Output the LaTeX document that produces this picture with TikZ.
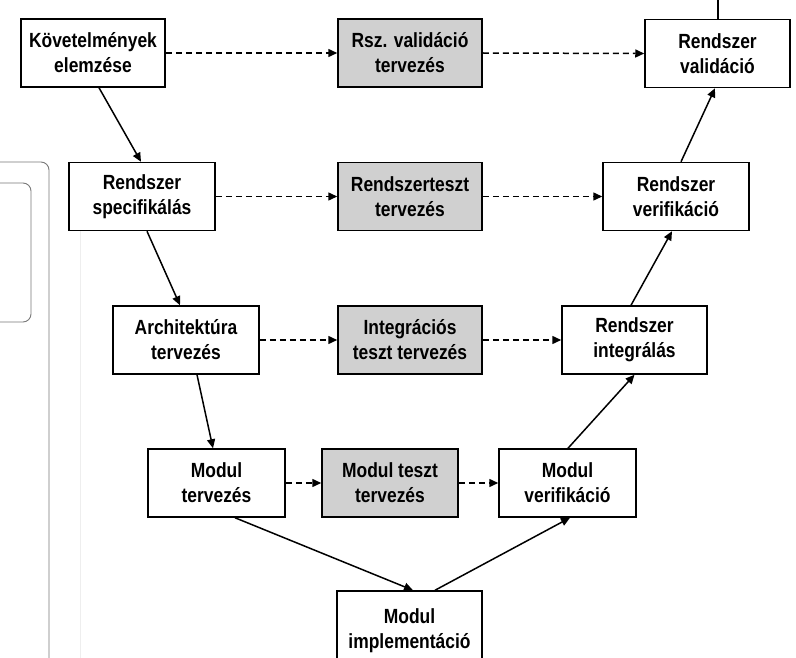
\documentclass[tikz,border=0pt]{standalone}
\usepackage{fontspec}
\newfontfamily\boxfont{Liberation Sans}[FakeStretch=0.85]
\usetikzlibrary{arrows.meta}
\definecolor{testgray}{RGB}{208,208,208}
\definecolor{framegray}{RGB}{120,120,120}
\definecolor{faintgray}{RGB}{238,238,238}
\begin{document}
\begin{tikzpicture}[x=1pt,y=-1pt,
  box/.style={draw=black, line width=1.5pt, fill=white, minimum height=68pt, inner sep=2pt, align=center,
    font=\boxfont\bfseries\fontsize{20.5}{25}\selectfont},
  testbox/.style={box, fill=testgray},
  flow/.style={line width=1.5pt, -{Triangle[length=9pt,width=8pt]}},
  dflow/.style={flow, dash pattern=on 6pt off 4pt},
  frame/.style={draw=framegray, line width=0.9pt, rounded corners=8pt}]
\useasboundingbox (0,0) rectangle (796,658);
% background artefacts
\draw[frame] (-20,162) -- (49,162) -- (49,680);
\draw[frame] (-20,183) -- (31,183) -- (31,322) -- (-20,322);
\draw[draw=faintgray, line width=0.8pt] (80,231) -- (80,658);
% row 1
\node[box, minimum width=144pt] (k1) at (93,53) {Követelmények\\elemzése};
\node[testbox, minimum width=144pt] (t1) at (410,53) {Rsz. validáció\\tervezés};
\node[box, minimum width=145pt] (v1) at (717.5,53.5) {Rendszer\\validáció};
% row 2
\node[box, minimum width=146pt] (k2) at (142,196.5) {Rendszer\\specifikálás};
\node[testbox, minimum width=144pt] (t2) at (410,196.5) {Rendszerteszt\\tervezés};
\node[box, minimum width=146pt] (v2) at (676,196.5) {Rendszer\\verifikáció};
% row 3
\node[box, minimum width=146pt] (k3) at (186,340) {Architektúra\\tervezés};
\node[testbox, minimum width=144pt] (t3) at (410,340) {Integrációs\\teszt tervezés};
\node[box, minimum width=145pt] (v3) at (634.5,340) {Rendszer\\integrálás};
% row 4
\node[box, minimum width=137pt] (k4) at (216.5,483) {Modul\\tervezés};
\node[testbox, minimum width=136pt] (t4) at (390,483) {Modul teszt\\tervezés};
\node[box, minimum width=137pt] (v4) at (567.5,483) {Modul\\verifikáció};
% row 5
\node[box, minimum width=145pt, minimum height=80pt] (m) at (409.5,631) {Modul\\implementáció};
\coordinate (topend) at (718,-2);
% dashed connectors
\draw[dflow] (k1.east) -- (t1.west);
\draw[dflow] (t1.east) -- (v1.west);
\draw[dflow] (k2.east) -- (t2.west);
\draw[dflow] (t2.east) -- (v2.west);
\draw[dflow] (k3.east) -- (t3.west);
\draw[dflow] (t3.east) -- (v3.west);
\draw[dflow] (k4.east) -- (t4.west);
\draw[dflow] (t4.east) -- (v4.west);
% solid connectors
\draw[flow] ([xshift=6pt]k1.south) -- ([xshift=-1pt]k2.north);
\draw[flow] ([xshift=5pt]k2.south) -- ([xshift=-6pt]k3.north);
\draw[flow] ([xshift=11pt]k3.south) -- ([xshift=-3.5pt]k4.north);
\draw[flow] ([xshift=18.5pt]k4.south) -- ([xshift=3.5pt]m.north);
\draw[flow] ([xshift=25.5pt]m.north) -- ([xshift=2.5pt]v4.south);
\draw[flow] ([xshift=0.5pt]v4.north) -- (v3.south);
\draw[flow] ([xshift=-3.5pt]v3.north) -- ([xshift=-4pt]v2.south);
\draw[flow] ([xshift=5pt]v2.north) -- ([xshift=-2.5pt]v1.south);
\draw[line width=1.5pt] ([xshift=0.5pt]v1.north) -- (topend);
\end{tikzpicture}
\end{document}
